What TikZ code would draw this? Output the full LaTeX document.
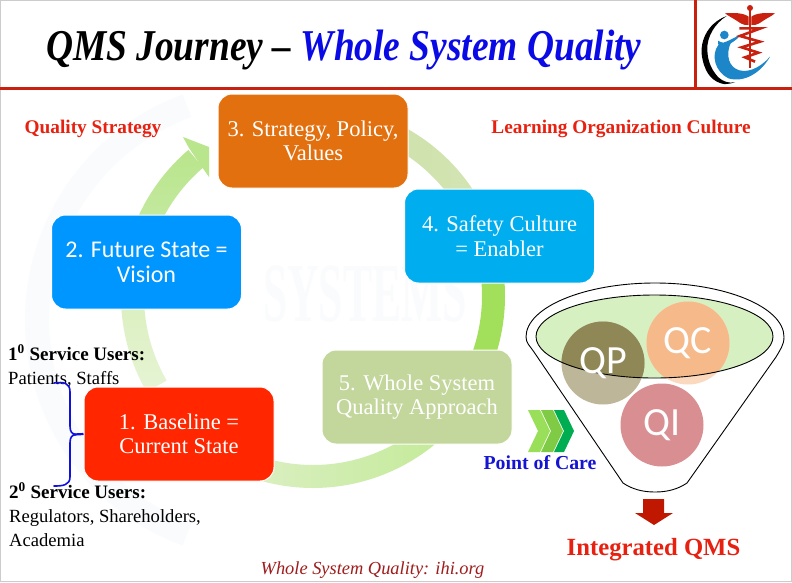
\documentclass[tikz,border=0pt]{standalone}
\usepackage{fontspec}
\setmainfont{Liberation Serif}
\newfontfamily\calib{Carlito}
\usetikzlibrary{shapes.geometric}
\definecolor{ruleRed}{HTML}{C8210F}
\definecolor{txtRed}{HTML}{E8200F}
\definecolor{wm}{HTML}{FAFBFD}
\definecolor{boxA}{HTML}{FF2600}
\definecolor{boxB}{HTML}{0096FF}
\definecolor{boxC}{HTML}{E2700F}
\definecolor{boxD}{HTML}{00AEEF}
\definecolor{boxE}{HTML}{C3D69B}
\definecolor{segAt}{HTML}{DAEFBE}
\definecolor{segAb}{HTML}{E6F4D4}
\definecolor{segBt}{HTML}{B9E58C}
\definecolor{segBb}{HTML}{C6EAA3}
\definecolor{segCt}{HTML}{CFE2AD}
\definecolor{segCb}{HTML}{D2E5B2}
\definecolor{segD}{HTML}{A2E05C}
\definecolor{segEr}{HTML}{C3EA98}
\definecolor{segEl}{HTML}{E2F1CF}
\definecolor{funnelGreen}{HTML}{D7F0C2}
\definecolor{qpLight}{HTML}{BDB699}
\definecolor{qpDark}{HTML}{8F8755}
\definecolor{qcLight}{HTML}{FBD9BE}
\definecolor{qcDark}{HTML}{F6BA8A}
\definecolor{qiCol}{HTML}{D98E92}
\definecolor{logoBlue}{HTML}{1C86C8}
\definecolor{chevA}{HTML}{9ADF5A}
\definecolor{chevB}{HTML}{7FCB45}
\definecolor{chevC}{HTML}{00AD50}
\definecolor{braceBlue}{HTML}{1010E0}
\definecolor{pocBlue}{HTML}{1414D2}
\definecolor{arrowRed}{HTML}{C01800}
\definecolor{srcRed}{HTML}{A01C1C}
\newcommand{\fsz}[1]{\fontsize{#1}{#1}\selectfont}
\newcommand{\ringseg}[2]{plot[domain=#1:#2,samples=50] ({313+192*cos(\x)},{296+192*sin(\x)}) -- plot[domain=#2:#1,samples=50] ({313+169*cos(\x)},{296+169*sin(\x)}) -- cycle}
\tikzset{
 stepbox/.style={rounded corners=14pt,minimum width=190pt,minimum height=94pt,inner sep=0pt,align=center,text=white,draw=white,line width=1pt,font=\fsz{22.5}},
 lbl/.style={anchor=base west,inner sep=0pt,text=black,font=\fsz{18.6}},
 lblb/.style={anchor=base,inner sep=0pt,font=\bfseries\fsz{19.3}},
 qcirc/.style={text=white,font=\calib\fsz{40},inner sep=0pt},
}
\begin{document}
\begin{tikzpicture}[x=1pt,y=-1pt]
\useasboundingbox (0,0) rectangle (792,582);
\fill[white] (0,0) rectangle (792,582);
% watermark
\draw[wm,line width=24pt] plot[domain=110:250,samples=60] ({265+228*cos(\x)},{320+228*sin(\x)});
\node[text=wm,inner sep=0pt,font=\bfseries\fsz{84}] (wmark) at (365,294) {\scalebox{0.52}[1]{SYSTEMS}};
% frame
\draw[black!20,line width=1.5pt] (0.7,0.7) rectangle (791.3,581.3);
% header rules
\fill[ruleRed] (0,87) rectangle (792,90);
\fill[ruleRed] (694,0) rectangle (697,88);
% title
\node[inner sep=0pt,anchor=base west,font=\bfseries\itshape\fsz{44}] (title) at (46,60) {\scalebox{0.85}[1]{QMS Journey -- \textcolor[HTML]{0A0AE6}{Whole System Quality}}};
% logo
\begin{scope}[shift={(690,0)},x=0.3333pt,y=-0.3333pt]
 \fill[black] (110,48) .. controls (50,70) and (25,130) .. (38,180) .. controls (48,225) and (70,245) .. (100,252) .. controls (110,253) and (125,250) .. (135,247) .. controls (115,250) and (100,245) .. (85,232) .. controls (65,210) and (53,185) .. (52,150) .. controls (50,110) and (75,70) .. (110,48) -- cycle;
 \fill[logoBlue] (85,135) .. controls (62,165) and (75,215) .. (115,235) .. controls (165,250) and (215,215) .. (240,170) .. controls (210,205) and (165,225) .. (135,205) .. controls (112,190) and (110,155) .. (122,130) .. controls (135,122) and (145,115) .. (153,103) .. controls (135,112) and (112,125) .. (100,128) .. controls (95,128) and (90,125) .. (84,122) -- cycle;
 \fill[logoBlue] (103,105) circle[radius=13];
 \fill[ruleRed] (105,40) .. controls (130,38) and (160,38) .. (176,50) -- (176,75) .. controls (160,78) and (145,65) .. (140,62) .. controls (130,55) and (118,50) .. (105,40) -- cycle;
 \fill[ruleRed] (255,40) .. controls (230,38) and (200,38) .. (184,50) -- (184,75) .. controls (200,78) and (215,65) .. (220,62) .. controls (230,55) and (242,50) .. (255,40) -- cycle;
 \fill[ruleRed] (178,25) rectangle (183,205);
 \fill[ruleRed] (180,24) circle[radius=9];
 \draw[ruleRed,line width=2.6pt] (148,85) -- (212,85) -- (150,108) -- (210,125) -- (155,142) -- (205,158) -- (165,172) -- (195,185);
\end{scope}
% ring segments
\shade[top color=segAt,bottom color=segAb] \ringseg{150}{182};
\shade[top color=segBt,bottom color=segBb] \ringseg{200}{229.5};
\fill[segBt] (189,148) -- (183,137) -- (209,147) -- (209,177) -- (202,167) -- cycle;
\shade[left color=segCt,right color=segCb] \ringseg{295}{330};
\fill[segD] \ringseg{-10}{25};
\shade[left color=segEl,right color=segEr] \ringseg{45}{130};
% step boxes
\node[stepbox,fill=boxA] (b1) at (179,434) {1. Baseline =\\[2pt]Current State};
\node[stepbox,fill=boxB,font=\calib\fsz{24}] (b2) at (146.5,262) {2. Future State =\\[1pt]Vision};
\node[stepbox,fill=boxC] (b3) at (313,141) {3. Strategy, Policy,\\[2pt]Values};
\node[stepbox,fill=boxD] (b4) at (499.5,236) {4. Safety Culture\\[2pt]= Enabler};
\node[stepbox,fill=boxE] (b5) at (417,397) {5. Whole System\\[2pt]Quality Approach};
% labels
\node[lblb,text=txtRed] (qs) at (93,133) {Quality Strategy};
\node[lblb,text=txtRed] (loc) at (621,133) {Learning Organization Culture};
\node[lbl,font=\bfseries\fsz{19}] (su1) at (8,360) {1\textsuperscript{0} Service Users:};
\node[lbl] (su1b) at (8,384) {Patients, Staffs};
\node[lbl,font=\bfseries\fsz{19}] (su2) at (9,498) {2\textsuperscript{0} Service Users:};
\node[lbl] (su2b) at (9,522) {Regulators, Shareholders,};
\node[lbl] (su2c) at (9,546) {Academia};
% brace
\coordinate (bt) at (54,383);
\coordinate (bb) at (54,486);
\draw[braceBlue,line width=1.6pt,line cap=round] (bt) .. controls (63,382) and (70,382) .. (70,392) -- (70,426) .. controls (70,432) and (72,434) .. (76,434.5) .. controls (72,435) and (70,437) .. (70,443) -- (70,477) .. controls (70,485) and (63,486) .. (bb);
\draw[braceBlue,line width=2.2pt] (74,434.5) -- (b1.west);
% funnel
\path[draw=black,line width=0.9pt,fill=white] (526,337) .. controls (526,307) and (585,283) .. (655,283) .. controls (725,283) and (784,307) .. (784,337) .. controls (784,345) and (780,350) .. (776,357) -- (687,483) .. controls (678,489) and (668,492) .. (655,492) .. controls (642,492) and (632,489) .. (623,483) -- (534,352) .. controls (530,346) and (526,343) .. (526,337) -- cycle;
\path[fill=funnelGreen] (654.5,336.5) ellipse[x radius=118.5,y radius=41.5];
\fill[qpLight] (603,363) circle[radius=41.5];
\fill[qcLight] (688,343) circle[radius=41.5];
\begin{scope}
 \clip (654.5,336.5) ellipse[x radius=118.5,y radius=41.5];
 \fill[qpDark] (603,363) circle[radius=41.5];
 \fill[qcDark] (688,343) circle[radius=41.5];
\end{scope}
\draw[black,line width=0.9pt] (654.5,336.5) ellipse[x radius=118.5,y radius=41.5];
\node[qcirc,circle,minimum size=83pt,fill=none] (qp) at (603,363) {QP};
\node[qcirc,circle,minimum size=83pt,fill=none] (qc) at (688,343) {QC};
\node[qcirc,circle,minimum size=83pt,fill=qiCol] (qi) at (662,425) {QI};
% chevrons
\fill[chevA] (528,410) -- (540,410) -- (550,431) -- (540,452) -- (528,452) -- (538,431) -- cycle;
\fill[chevB] (541,410) -- (553,410) -- (563,431) -- (553,452) -- (541,452) -- (551,431) -- cycle;
\fill[chevC] (554,410) -- (564,410) -- (574,431) -- (564,452) -- (554,452) -- (564,431) -- cycle;
\node[lblb,text=pocBlue,font=\bfseries\fsz{19.8}] (poc) at (540,469) {Point of Care};
% red arrow
\fill[arrowRed] (643,499) -- (664,499) -- (664,513) -- (673,513) -- (654,525) -- (635,513) -- (643,513) -- cycle;
\node[lblb,text=txtRed,font=\bfseries\fsz{24.7}] (iq) at (653.5,555) {Integrated QMS};
\node[inner sep=0pt,anchor=base,text=srcRed,font=\itshape\fsz{18.4}] (src) at (372.5,574) {Whole System Quality: ihi.org};
\end{tikzpicture}
\end{document}
